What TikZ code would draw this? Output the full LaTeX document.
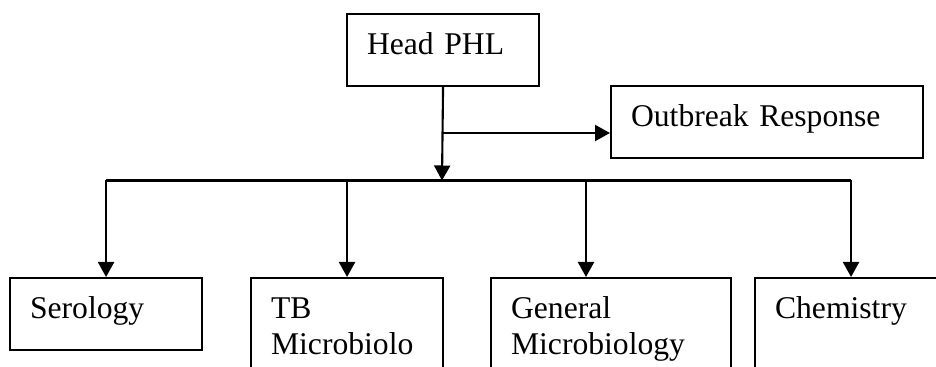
\documentclass[tikz,border=0pt]{standalone}
\usepackage{fontspec}
\setmainfont{Liberation Serif}
\usetikzlibrary{arrows.meta}

\begin{document}
\begin{tikzpicture}[>={Triangle[length=0.3cm,width=0.32cm]}, line width=1.2pt,
  unit/.style={draw, anchor=north west, inner xsep=0.4cm, inner ysep=0pt, text width=3.04cm, align=left,
    font=\fontsize{18}{21}\selectfont, text height=0.8cm, text depth=0.64cm}]
\useasboundingbox (0,0) rectangle (18.72,-7.34);
\clip (0,0) rectangle (18.72,-7.34);

\node[unit](head) at (6.92,-0.26){Head PHL};
\node[unit, text width=5.44cm](outbreak) at (12.2,-1.7){Outbreak Response};
\node[unit](serology) at (0.18,-5.54){Serology};
\node[unit, text depth=2cm](tb) at (5,-5.54){TB\\Microbiolo};
\node[unit, text width=4cm, text depth=2cm](general) at (9.8,-5.54){General\\Microbiology};
\node[unit, text depth=2cm](chemistry) at (15.08,-5.54){Chemistry};

\coordinate (split) at (8.84,-2.66);
\coordinate (bus) at (8.84,-3.61);
\coordinate (genbus) at (11.72,-3.61);

\draw[->](head.south)--(bus);
\draw[->](split)--(split-|outbreak.west);
\draw(serology.north|-bus)--(chemistry.north|-bus);
\draw[->](serology.north|-bus)--(serology.north);
\draw[->](tb.north|-bus)--(tb.north);
\draw[->](genbus)--(genbus|-general.north);
\draw[->](chemistry.north|-bus)--(chemistry.north);
\end{tikzpicture}
\end{document}
